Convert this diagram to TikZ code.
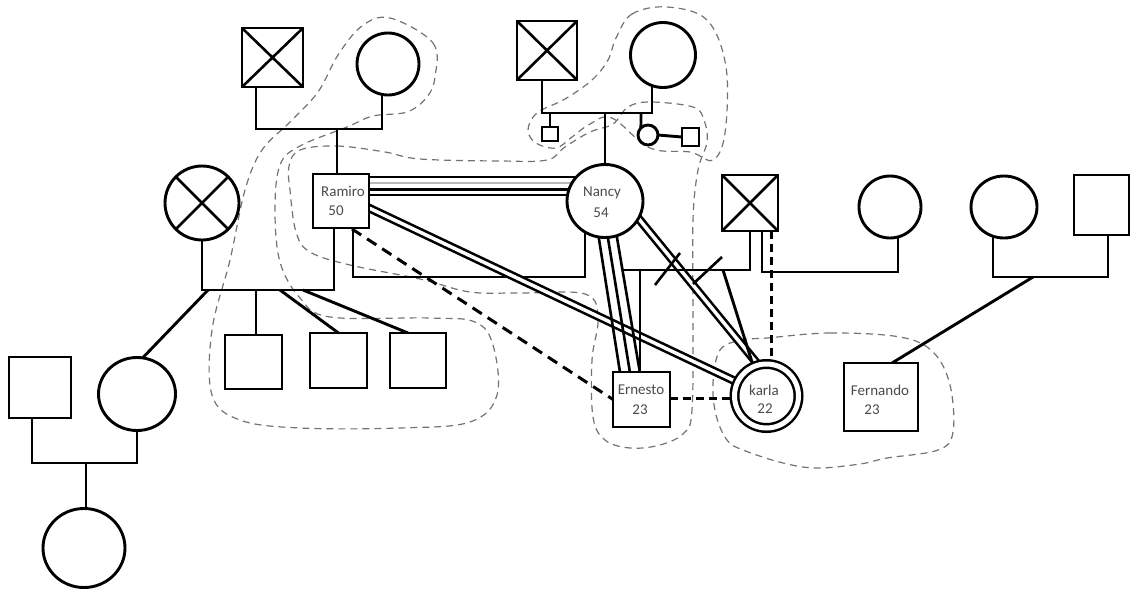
\documentclass[tikz,border=0pt]{standalone}
\usepackage{fontspec}
\setmainfont{Carlito}
\usetikzlibrary{shapes.geometric}
\pgfdeclarelayer{bg}
\pgfsetlayers{bg,main}
\definecolor{txtc}{RGB}{75,75,75}
\definecolor{hhc}{RGB}{115,115,115}
\begin{document}
\begin{tikzpicture}[x=1pt,y=-1pt,
  ln/.style={line width=2.9pt},
  pers/.style={draw, line width=2.9pt, fill=white, inner sep=0pt, outer sep=0pt},
  sq/.style={pers, rectangle},
  fem/.style={pers, ellipse},
  dead/.style={path picture={\draw[line width=2.6pt] (path picture bounding box.north west) -- (path picture bounding box.south east) (path picture bounding box.north east) -- (path picture bounding box.south west);}},
  lbl/.style={font=\fontsize{15}{17}\selectfont, text=txtc, inner sep=0pt},
  dsh/.style={line width=3pt, dash pattern=on 11pt off 7pt},
  dsh2/.style={line width=3pt, dash pattern=on 8pt off 5pt},
  dbl/.style={draw=black, double=white, line width=2.6pt, double distance=3.5pt},
  hh/.style={draw=hhc, line width=1.2pt, dash pattern=on 7pt off 5pt}
]
\useasboundingbox (0,0) rectangle (1130,590);

% ---------- people ----------
\node[sq, dead, minimum width=61pt, minimum height=59pt] (gfR) at (272.5,57.5) {};
\node[fem, minimum width=62pt, minimum height=62pt] (gmR) at (388,64) {};
\node[sq, minimum width=56pt, minimum height=54pt] (R) at (341,201) {};
\node[fem, dead, minimum width=74pt, minimum height=74pt] (wR) at (202,203) {};
\node[sq, minimum width=57pt, minimum height=54pt] (c1) at (253.5,362) {};
\node[sq, minimum width=57pt, minimum height=55pt] (c2) at (338.5,360.5) {};
\node[sq, minimum width=56pt, minimum height=55pt] (c3) at (418,360.5) {};
\node[fem, minimum width=77pt, minimum height=73pt] (dL) at (137,394) {};
\node[sq, minimum width=62pt, minimum height=61pt] (hL) at (40,387.5) {};
\node[fem, minimum width=82pt, minimum height=79pt] (gdL) at (84,548) {};
\node[sq, dead, minimum width=60pt, minimum height=59pt] (gfN) at (547,50.5) {};
\node[fem, minimum width=65pt, minimum height=65pt] (gmN) at (663,55) {};
\node[sq, minimum width=16pt, minimum height=14pt] (sN1) at (550,134) {};
\node[fem, minimum width=20pt, minimum height=20pt] (sN2) at (648,135) {};
\node[sq, minimum width=17pt, minimum height=18pt] (sN2h) at (690.5,137) {};
\node[fem, minimum width=76pt, minimum height=73pt] (N) at (605,201) {};
\node[sq, minimum width=57pt, minimum height=55pt] (E) at (641.5,399.5) {};
\node[pers, circle, double, double distance=5pt, line width=2.5pt, minimum size=64pt] (K) at (766.5,396) {};
\node[sq, dead, minimum width=56pt, minimum height=56pt] (fK) at (750,203) {};
\node[fem, minimum width=62pt, minimum height=62pt] (wK2) at (890,207) {};
\node[fem, minimum width=66pt, minimum height=62pt] (mF) at (1004,207) {};
\node[sq, minimum width=55pt, minimum height=60pt] (fF) at (1101.5,205) {};
\node[sq, minimum width=74pt, minimum height=68pt] (F) at (881,397) {};

% ---------- labels ----------
\node[lbl] (tR1) at (343,191) {Ramiro};
\node[lbl] (tR2) at (336,211) {50};
\node[lbl] (tN1) at (602,193) {Nancy};
\node[lbl] (tN2) at (601,213) {54};
\node[lbl] (tE1) at (641,390) {Ernesto};
\node[lbl] (tE2) at (640,410) {23};
\node[lbl] (tK1) at (764,390) {karla};
\node[lbl] (tK2) at (765,409) {22};
\node[lbl] (tF1) at (880,390) {Fernando};
\node[lbl] (tF2) at (872,410) {23};

% ---------- coordinates ----------
\coordinate (bRl) at (256,129); \coordinate (bRr) at (382,129); \coordinate (cR) at (337,129);
\coordinate (bW) at (202,290); \coordinate (bWr) at (334,290);
\coordinate (k1) at (256,290); \coordinate (k2) at (280,290); \coordinate (k3) at (303,290); \coordinate (kd) at (208,290);
\coordinate (bL) at (32,463); \coordinate (bLr) at (137,463); \coordinate (cL) at (86,463);
\coordinate (bNl) at (542,113); \coordinate (bNr) at (652,113);
\coordinate (n1) at (550,113); \coordinate (n2) at (605,113); \coordinate (n3) at (641,113);
\coordinate (bRN) at (353,277); \coordinate (bRNr) at (585,277);
\coordinate (mNl) at (622,270); \coordinate (mNr) at (750,270);
\coordinate (eC) at (640,270); \coordinate (kC) at (723,270);
\coordinate (bK2) at (762,272); \coordinate (bK2r) at (898,272);
\coordinate (bF) at (993,277); \coordinate (bFr) at (1108,277); \coordinate (fC) at (1033,277);
\coordinate (eK) at (700,398);

\begin{pgfonlayer}{bg}
% household outlines
\draw[hh] plot[smooth cycle, tension=0.6] coordinates {(390,18) (433,43) (435,77) (427,97) (407,112) (373,116) (347,127) (300,146) (280,165) (275,210) (280,262) (300,298) (330,317) (430,318) (475,322) (493,345) (497,395) (470,422) (400,428) (300,428) (240,420) (212,395) (212,330) (230,260) (245,190) (262,150) (290,122) (318,92) (338,55) (362,26)};
\draw[hh] plot[smooth cycle, tension=0.6] coordinates {(300,150) (337,146) (385,152) (420,159) (500,161) (547,160) (565,147) (590,132) (613,124) (628,107) (650,102) (693,107) (704,120) (707,142) (698,170) (693,220) (693,320) (692,410) (684,433) (660,445) (630,448) (605,440) (593,417) (592,360) (598,318) (585,294) (520,293) (470,292) (420,279) (350,265) (310,252) (296,232) (290,190) (289,166)};
\draw[hh] plot[smooth cycle, tension=0.6] coordinates {(616,38) (632,14) (667,7) (707,20) (726,67) (725,133) (713,160) (690,152) (650,148) (612,118) (590,124) (572,137) (556,148) (536,143) (528,130) (537,113) (565,99) (592,80) (608,60)};
\draw[hh] plot[smooth cycle, tension=0.6] coordinates {(767,338) (830,333) (900,337) (933,352) (950,385) (953,432) (938,450) (887,458) (860,464) (817,468) (783,463) (743,450) (727,440) (716,415) (713,383) (720,350) (742,340)};

% Ramiro's parents
\draw[ln] (gfR.south -| bRl) -- (bRl) -- (bRr) -- (gmR.center -| bRr);
\draw[ln] (cR) -- (R.center -| cR);
% Ramiro & first wife
\draw[ln] (wR.center) -- (bW) -- (bWr) -- (R.center -| bWr);
\draw[ln] (k1) -- (c1.center -| k1);
\draw[ln] (k2) -- (c2.north);
\draw[ln] (k3) -- ([xshift=-10pt]c3.north);
\draw[ln] (kd) -- ([xshift=6pt]dL.north);
% left couple
\draw[ln] (hL.center -| bL) -- (bL) -- (bLr) -- (dL.center -| bLr);
\draw[ln] (cL) -- (gdL.center -| cL);
% Nancy's parents
\draw[ln] (gfN.center -| bNl) -- (bNl) -- (bNr) -- (gmN.center -| bNr);
\draw[ln] (n1) -- (sN1.center);
\draw[ln] (n2) -- (N.center -| n2);
\draw[ln] (n3) -- (sN2.north west);
\draw[ln] (sN2.east) -- (sN2h.west);
% Ramiro - Nancy fused
\draw[line width=2.6pt] (R.east |- 0,177) -- (590,177);
\draw[line width=2.6pt, gray!55] (R.east |- 0,183) -- (590,183);
\draw[line width=2.6pt] (R.east |- 0,189.5) -- (590,189.5);
\draw[line width=2.6pt] (R.east |- 0,195) -- (590,195);
% Ramiro - Nancy union
\draw[ln] (R.center -| bRN) -- (bRN) -- (bRNr) -- (N.center -| bRNr);
% Ramiro - Karla close
\draw[dbl] (350,199) -- (K.center);
% Nancy - Karla close
\draw[dbl] (625,202) -- (760,367);
% Nancy - Ernesto fused
\draw[line width=2.6pt] (596,220) -- (622,385);
\draw[line width=2.6pt] (605,220) -- (632,385);
\draw[line width=2.6pt] (614,220) -- (642,385);
% Ramiro - Ernesto distant
\draw[dsh] (352,229) -- (E.west);
% Ernesto - Karla distant
\draw[dsh2] (E.east |- eK) -- (K.center |- eK);
% Nancy & Karla's father (divorced)
\draw[ln] (mNl) -- (mNr) -- (fK.center -| mNr);
\draw[ln] (eC) -- (E.center -| eC);
\draw[ln] (kC) -- (752,362);
\draw[line width=2.6pt] (655,285) -- (680,253);
\draw[line width=2.6pt] (693,284) -- (722,257);
% Karla's father & second partner
\draw[ln] (fK.center -| bK2) -- (bK2) -- (bK2r) -- (wK2.center -| bK2r);
% father - Karla distant
\draw[dsh2] (fK.south -| 771,0) -- (K.center -| 771,0);
% Fernando's parents
\draw[ln] (mF.center -| bF) -- (bF) -- (bFr) -- (fF.center -| bFr);
\draw[ln] (fC) -- ([xshift=11pt]F.north);
\end{pgfonlayer}
\end{tikzpicture}
\end{document}
